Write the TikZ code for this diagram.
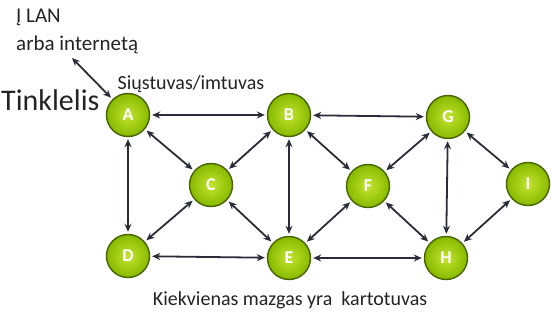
\documentclass[tikz,border=0pt]{standalone}
\usepackage{fontspec}
\setmainfont{Carlito}
\usetikzlibrary{arrows.meta, positioning}
\definecolor{nodegreen}{RGB}{135, 185, 0}
\definecolor{nodelight}{RGB}{195, 228, 50}
\definecolor{nodeedge}{RGB}{70, 100, 0}
\definecolor{linkdark}{RGB}{40, 45, 55}
\definecolor{labelgray}{RGB}{35, 35, 35}

\begin{document}
\begin{tikzpicture}[
  x=1pt, y=-1pt,
  router/.style={circle, draw=nodeedge, line width=1.4pt, inner color=nodelight, outer color=nodegreen, minimum size=43pt, inner sep=0pt, text=white, font=\bfseries\fontsize{18}{18}\selectfont},
  link/.style={{Stealth[length=8pt,width=7pt]}-{Stealth[length=8pt,width=7pt]}, draw=linkdark, line width=1.8pt, shorten <=2pt, shorten >=2pt},
  lbl/.style={text=labelgray, font=\fontsize{20}{27}\selectfont, inner sep=0pt}
]
  \useasboundingbox (0,0) rectangle (552,324);

  % Mazgai
  \node[router] (A) at (128,115) {A};
  \node[router] (B) at (289,115) {B};
  \node[router] (G) at (448,117) {G};
  \node[router] (C) at (211,185) {C};
  \node[router] (F) at (368,186) {F};
  \node[router] (I) at (528,184) {I};
  \node[router] (D) at (128,256) {D};
  \node[router] (E) at (289,258) {E};
  \node[router] (H) at (446,258) {H};

  % Ryšiai
  \draw[link] (A) -- (B);
  \draw[link] (B) -- (G);
  \draw[link] (D) -- (E);
  \draw[link] (E) -- (H);
  \draw[link] (A) -- (D);
  \draw[link] (B) -- (E);
  \draw[link] (G) -- (H);
  \draw[link] (A) -- (C);
  \draw[link] (B) -- (C);
  \draw[link] (C) -- (D);
  \draw[link] (C) -- (E);
  \draw[link] (B) -- (F);
  \draw[link] (G) -- (F);
  \draw[link] (F) -- (E);
  \draw[link] (F) -- (H);
  \draw[link] (G) -- (I);
  \draw[link] (I) -- (H);

  % Išorinis ryšys
  \coordinate (lan) at (72,58);
  \draw[link, shorten <=0pt] (lan) -- (A);

  % Užrašai
  \node[lbl, anchor=west, align=left, font=\fontsize{21}{28}\selectfont] (out) at (16,31) {Į LAN\\arba internetą};
  \node[lbl] (trx) at (191,84) {Siųstuvas/imtuvas};
  \node[lbl, anchor=west, font=\fontsize{30}{30}\selectfont] (mesh) at (1,100) {Tinklelis};
  \node[lbl] (note) at (290,300) {Kiekvienas mazgas yra\ \ kartotuvas};
\end{tikzpicture}
\end{document}
